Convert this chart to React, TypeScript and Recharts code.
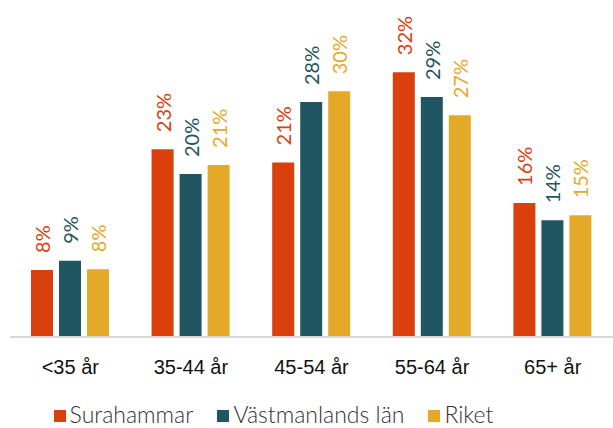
import React from "react";
import { BarChart, Bar, XAxis, YAxis, LabelList, Legend } from "recharts";

const categories = ["<35 år", "35-44 år", "45-54 år", "55-64 år", "65+ år"];
const surahammar = [8.1, 22.7, 21.1, 32.0, 16.2];
const vastmanland = [9.2, 19.7, 28.4, 29.0, 14.1];
const riket = [8.2, 20.8, 29.7, 26.8, 14.7];

const seriesNames = ["Surahammar", "Västmanlands län", "Riket"];
const colors = ["#D9400E", "#1F5661", "#E5A92A"];

const data = categories.map((c, i) => ({
  name: c,
  s: surahammar[i],
  v: vastmanland[i],
  r: riket[i],
}));

const makeLabel = (color: string) => (props: any) => {
  const { x, y, width, value } = props;
  const cx = x + width / 2;
  const ty = y - 17;
  return (
    <text
      x={cx}
      y={ty}
      transform={`rotate(-90 ${cx} ${ty})`}
      textAnchor="start"
      dominantBaseline="central"
      fill={color}
      fontSize={20}
      fontFamily="Lato, 'Open Sans', sans-serif"
      fontWeight={400}
    >
      {Math.round(value)}%
    </text>
  );
};

const Tick = (props: any) => {
  const { x, y, payload } = props;
  return (
    <text
      x={x}
      y={y + 29}
      textAnchor="middle"
      fill="#111"
      fontSize={20}
      fontWeight={400}
      fontFamily="'Liberation Sans', Arial, sans-serif"
    >
      {payload.value}
    </text>
  );
};

const LegendContent = () => (
  <div
    style={{
      display: "flex",
      justifyContent: "center",
      alignItems: "center",
      height: 28,
      fontFamily: "Lato, 'Open Sans', sans-serif",
      fontWeight: 300,
      fontSize: 23,
      color: "#333",
      paddingRight: 76,
    }}
  >
    {seriesNames.map((n, i) => (
      <div key={n} style={{ display: "flex", alignItems: "center", marginRight: i < 2 ? 24 : 0 }}>
        <span
          style={{
            width: 12,
            height: 12,
            background: colors[i],
            display: "inline-block",
            marginRight: 4,
            position: "relative",
            top: 2,
          }}
        />
        <span>{n}</span>
      </div>
    ))}
  </div>
);

export default function App() {
  return (
    <div style={{ position: "absolute", left: 0, top: 0, width: 613, height: 428, background: "#fff" }}>
      <BarChart
        width={613}
        height={428}
        data={data}
        margin={{ top: 6, right: 0, left: 10, bottom: 0 }}
        barSize={22}
        barGap={6}
      >
        <XAxis
          dataKey="name"
          axisLine={{ stroke: "#d9d9d9", strokeWidth: 2 }}
          tickLine={false}
          tick={<Tick />}
          height={63}
          interval={0}
        />
        <YAxis hide domain={[0, 40]} />
        <Legend verticalAlign="bottom" content={<LegendContent />} />
        <Bar dataKey="s" fill={colors[0]} isAnimationActive={false}>
          <LabelList dataKey="s" content={makeLabel(colors[0])} />
        </Bar>
        <Bar dataKey="v" fill={colors[1]} isAnimationActive={false}>
          <LabelList dataKey="v" content={makeLabel(colors[1])} />
        </Bar>
        <Bar dataKey="r" fill={colors[2]} isAnimationActive={false}>
          <LabelList dataKey="r" content={makeLabel(colors[2])} />
        </Bar>
      </BarChart>
    </div>
  );
}
